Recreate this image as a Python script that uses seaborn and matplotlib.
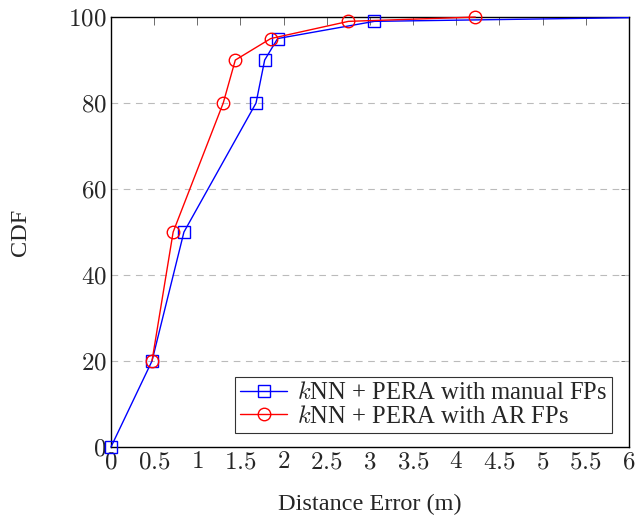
import matplotlib
matplotlib.use("Agg")
import matplotlib.pyplot as plt
import matplotlib.patches as mpatches
import seaborn as sns
import pandas as pd
from matplotlib.ticker import FuncFormatter

manual_x = [0.0, 0.475, 0.845, 1.68, 1.78, 1.93, 3.05, 6.5]
manual_y = [0, 20, 50, 80, 90, 95, 99, 100]
ar_x = [0.475, 0.72, 1.30, 1.44, 1.85, 2.75, 4.22]
ar_y = [20, 50, 80, 90, 95, 99, 100]
labels = [r"$k$NN + PERA with manual FPs", r"$k$NN + PERA with AR FPs"]
x_ticks = [0, 0.5, 1, 1.5, 2, 2.5, 3, 3.5, 4, 4.5, 5, 5.5, 6]
y_ticks = [0, 20, 40, 60, 80, 100]

sns.set_style("white")
plt.rcParams["font.family"] = ["Liberation Serif", "DejaVu Serif"]
plt.rcParams["mathtext.fontset"] = "cm"

fig = plt.figure(figsize=(6.36, 5.17), dpi=100)
ax = fig.add_axes([0.1745, 0.1354, 0.8145, 0.8316])

df1 = pd.DataFrame({"x": manual_x, "y": manual_y})
df2 = pd.DataFrame({"x": ar_x, "y": ar_y})
sns.lineplot(data=df1, x="x", y="y", ax=ax, color="#0000ff", marker="s",
             markersize=9, markerfacecolor="none", markeredgecolor="#0000ff",
             markeredgewidth=1.0, linewidth=1.0, sort=False, label=labels[0],
             zorder=3)
sns.lineplot(data=df2, x="x", y="y", ax=ax, color="#ff0000", marker="o",
             markersize=9, markerfacecolor="none", markeredgecolor="#ff0000",
             markeredgewidth=1.0, linewidth=1.0, sort=False, label=labels[1],
             zorder=4)

# let markers overflow the frame on left/top/bottom, but clip at the right edge
clip_rect = mpatches.Rectangle((-0.05, -0.05), 1.05, 1.1, transform=ax.transAxes,
                               fill=False, visible=False)
ax.add_patch(clip_rect)
for ln in ax.get_lines():
    ln.set_clip_path(clip_rect)

ax.set_xlim(0, 6)
ax.set_ylim(0, 100)
ax.set_xticks(x_ticks)
ax.set_yticks(y_ticks)
fmt = FuncFormatter(lambda v, p: r"$%g$" % v)
ax.xaxis.set_major_formatter(fmt)
ax.yaxis.set_major_formatter(fmt)
ax.tick_params(direction="in", top=True, right=True, length=6, width=0.6,
               color="#555555", labelsize=18, pad=3)
for y in [20, 40, 60, 80]:
    ax.axhline(y, color="#bbbbbb", linestyle=(0, (6, 5)), linewidth=0.8, zorder=1)
for s in ax.spines.values():
    s.set_color("black")
    s.set_linewidth(1.0)

ax.set_xlabel("Distance Error (m)", fontsize=17.5, labelpad=15)
ax.set_ylabel("CDF", fontsize=17.5, labelpad=27)

leg = ax.legend(loc="lower right", bbox_to_anchor=(0.967, 0.033), fontsize=17.7,
                frameon=True, fancybox=False, edgecolor="black",
                handlelength=1.9, borderpad=0.2, labelspacing=0.05,
                handletextpad=0.4, borderaxespad=0.0)
leg.get_frame().set_linewidth(0.8)

fig.savefig("out.png", dpi=100)
